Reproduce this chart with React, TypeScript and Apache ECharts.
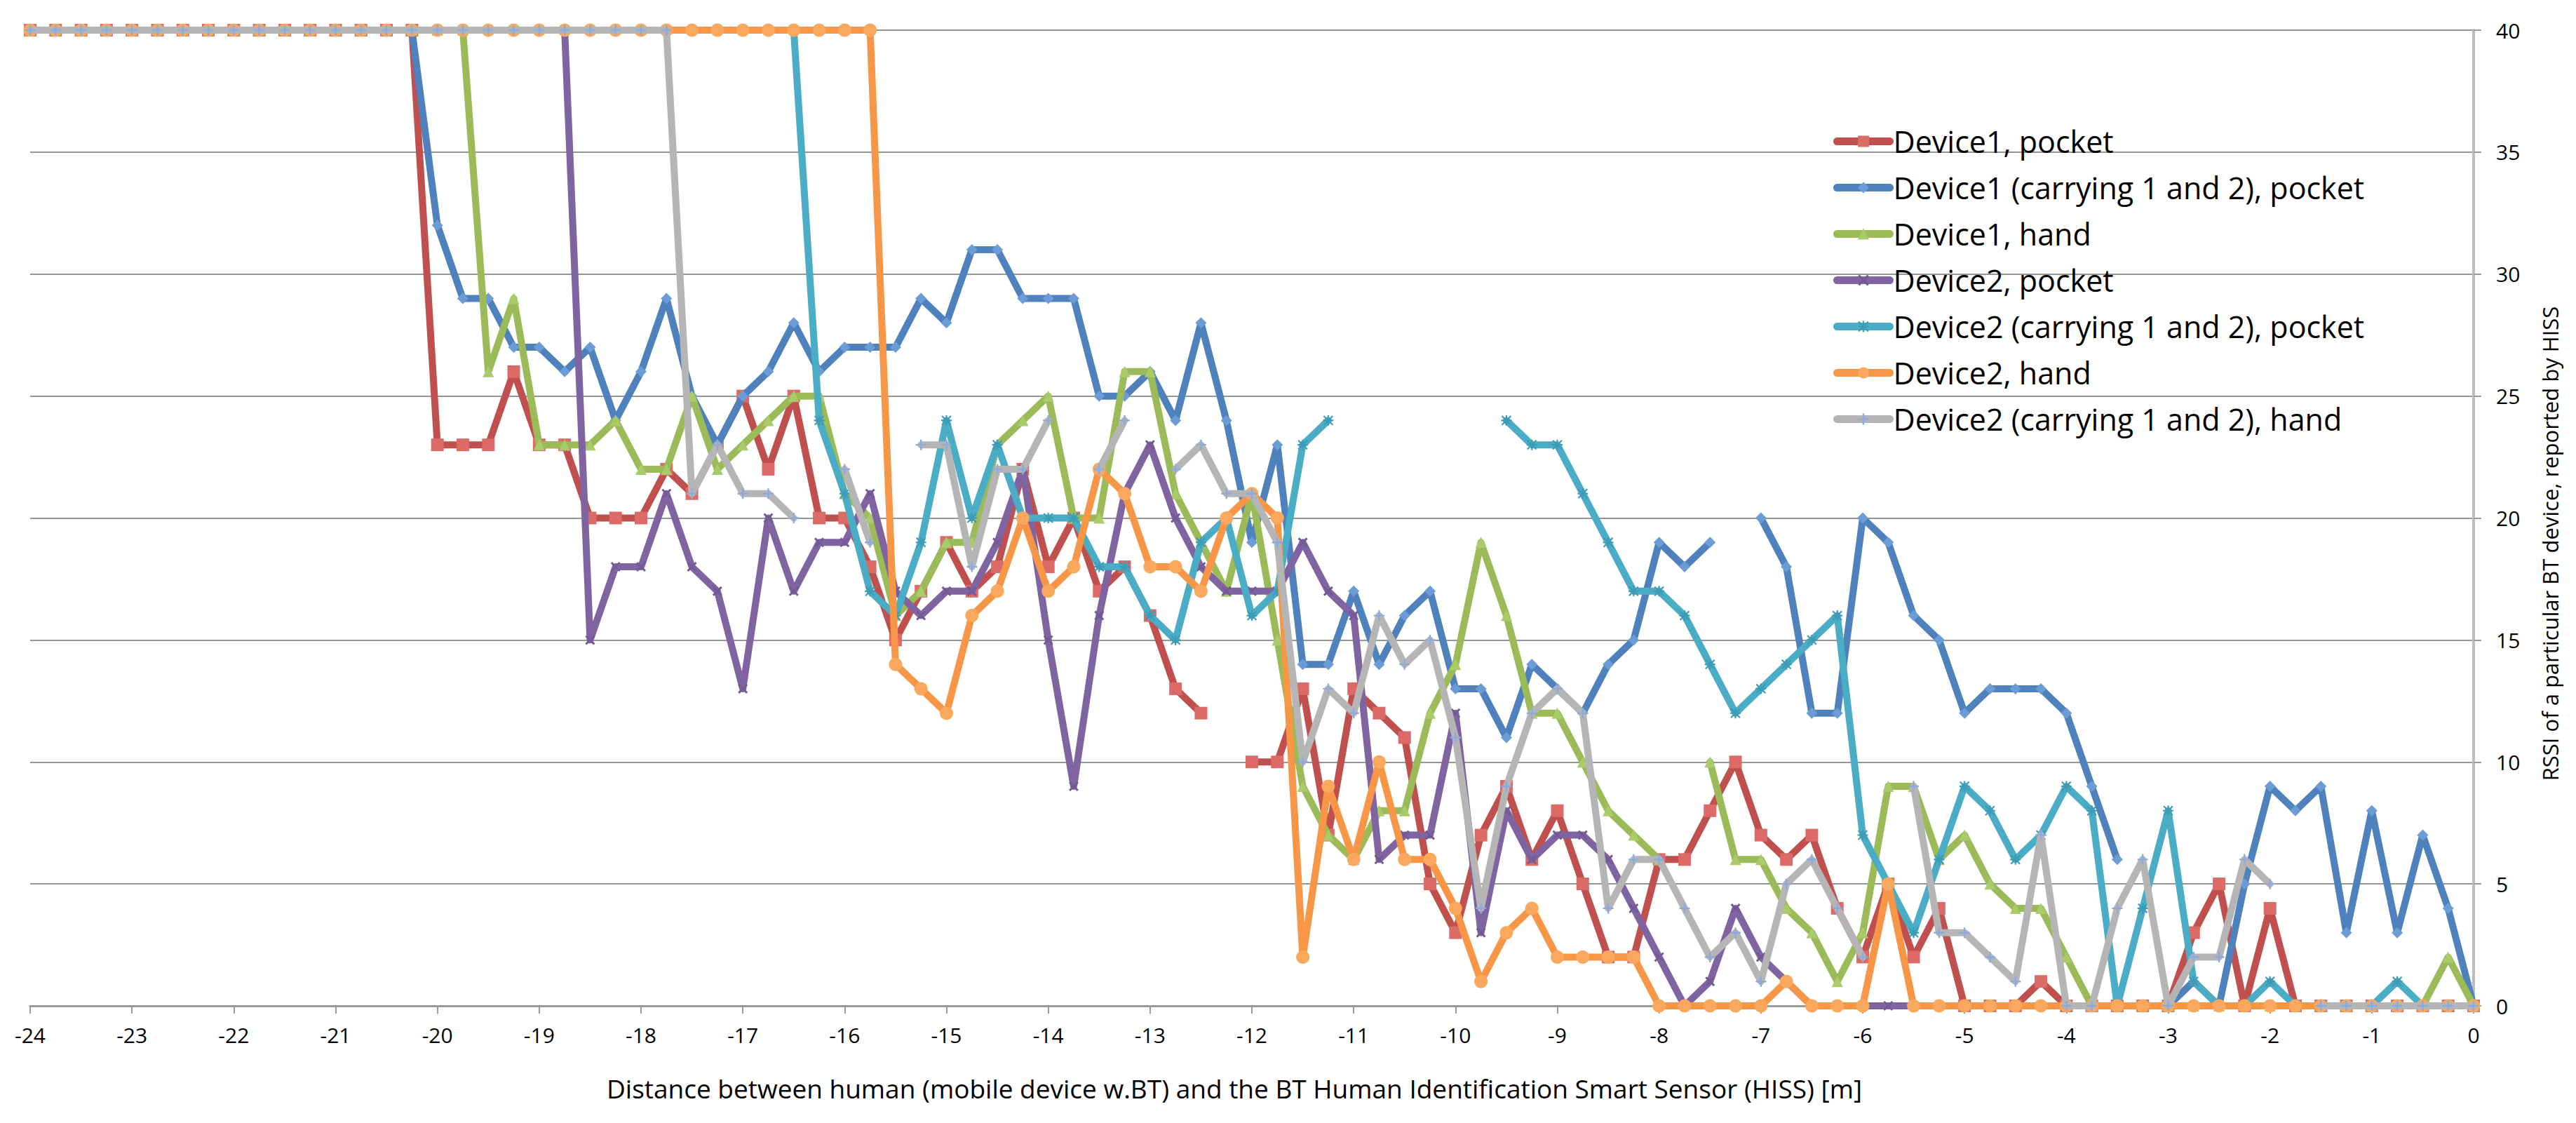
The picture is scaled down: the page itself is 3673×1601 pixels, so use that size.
import React, { useEffect, useRef } from "react";
import * as echarts from "echarts";

// Distance from the sensor [m], one reading every 0.25 m
const DISTANCES = [
  -24, -23.75, -23.5, -23.25, -23, -22.75, -22.5, -22.25, -22, -21.75, -21.5, -21.25,
  -21, -20.75, -20.5, -20.25, -20, -19.75, -19.5, -19.25, -19, -18.75, -18.5, -18.25,
  -18, -17.75, -17.5, -17.25, -17, -16.75, -16.5, -16.25, -16, -15.75, -15.5, -15.25,
  -15, -14.75, -14.5, -14.25, -14, -13.75, -13.5, -13.25, -13, -12.75, -12.5, -12.25,
  -12, -11.75, -11.5, -11.25, -11, -10.75, -10.5, -10.25, -10, -9.75, -9.5, -9.25,
  -9, -8.75, -8.5, -8.25, -8, -7.75, -7.5, -7.25, -7, -6.75, -6.5, -6.25,
  -6, -5.75, -5.5, -5.25, -5, -4.75, -4.5, -4.25, -4, -3.75, -3.5, -3.25,
  -3, -2.75, -2.5, -2.25, -2, -1.75, -1.5, -1.25, -1, -0.75, -0.5, -0.25, 0,
];

const X_TICKS_MIN = -24;
const X_TICKS_MAX = 0;
const Y_MIN = 0;
const Y_MAX = 40;

const SERIES_NAMES = [
  "Device1, pocket",
  "Device1 (carrying 1 and 2), pocket",
  "Device1, hand",
  "Device2, pocket",
  "Device2 (carrying 1 and 2), pocket",
  "Device2, hand",
  "Device2 (carrying 1 and 2), hand",
];

const DEVICE1_POCKET = [
  40, 40, 40, 40, 40, 40, 40, 40, 40, 40, 40, 40, 40, 40, 40, 40,
  23, 23, 23, 26, 23, 23, 20, 20, 20, 22, 21, 23, 25, 22, 25,
  20, 20, 18, 15, 17, 19, 17, 18, 22, 18, 20, 17, 18, 16, 13, 12,
  null,
  10, 10, 13, 7, 13, 12, 11, 5, 3, 7, 9, 6, 8, 5, 2, 2,
  6, 6, 8, 10, 7, 6, 7, 4, 2, 5, 2, 4, 0, 0, 0, 1, 0,
  0, 0, 0, 0, 3, 5, 0, 4, 0, 0, 0, 0, 0, 0, 0, 0,
];

const DEVICE1_CARRY_POCKET = [
  40, 40, 40, 40, 40, 40, 40, 40, 40, 40, 40, 40, 40, 40, 40, 40,
  32, 29, 29, 27, 27, 26, 27, 24, 26, 29, 25, 23, 25, 26, 28,
  26, 27, 27, 27, 29, 28, 31, 31, 29, 29, 29, 25, 25, 26, 24, 28, 24,
  19, 23, 14, 14, 17, 14, 16, 17, 13, 13, 11, 14, 13, 12, 14, 15,
  19, 18, 19, null, 20, 18, 12, 12, 20, 19, 16, 15, 12, 13, 13, 13, 12,
  9, 6, null, 0, 1, 0, 5, 9, 8, 9, 3, 8, 3, 7, 4, 0,
];

const DEVICE1_HAND = [
  40, 40, 40, 40, 40, 40, 40, 40, 40, 40, 40, 40, 40, 40, 40, 40, 40, 40,
  26, 29, 23, 23, 23, 24, 22, 22, 25, 22, 23, 24, 25,
  25, 21, 20, 16, 17, 19, 19, 23, 24, 25, 20, 20, 26, 26, 21, 19, 17,
  21, 15, 9, 7, 6, 8, 8, 12, 14, 19, 16, 12, 12, 10, 8, 7,
  6, null, 10, 6, 6, 4, 3, 1, 3, 9, 9, 6, 7, 5, 4, 4, 2,
  0, 0, 0, 0, 0, 0, 0, 0, 0, 0, 0, 0, 0, 0, 2, 0,
];

const DEVICE2_POCKET = [
  40, 40, 40, 40, 40, 40, 40, 40, 40, 40, 40, 40, 40, 40, 40, 40, 40, 40, 40, 40, 40, 40,
  15, 18, 18, 21, 18, 17, 13, 20, 17,
  19, 19, 21, 17, 16, 17, 17, 19, 22, 15, 9, 16, 21, 23, 20, 18, 17,
  17, 17, 19, 17, 16, 6, 7, 7, 12, 3, 8, 6, 7, 7, 6, 4,
  2, 0, 1, 4, 2, 1,
  0, 0, 0, 0, 0, 0, 0, 0, 0, 0, 0, 0, 0, 0, 0, 0, 0, 0, 0, 0, 0, 0, 0, 0, 0, 0, 0,
];

const DEVICE2_CARRY_POCKET = [
  40, 40, 40, 40, 40, 40, 40, 40, 40, 40, 40, 40, 40, 40, 40, 40,
  40, 40, 40, 40, 40, 40, 40, 40, 40, 40, 40, 40, 40, 40, 40,
  24, 21, 17, 16, 19, 24, 20, 23, 20, 20, 20, 18, 18, 16, 15, 19, 20,
  16, 17, 23, 24,
  null, null, null, null, null, null,
  24, 23, 23, 21, 19, 17,
  17, 16, 14, 12, 13, 14, 15, 16, 7, 5, 3, 6, 9, 8, 6, 7, 9,
  8, 0, 4, 8, 1, 0, 0, 1, 0, 0, 0, 0, 1, 0, 0, 0,
];

const DEVICE2_HAND = [
  40, 40, 40, 40, 40, 40, 40, 40, 40, 40, 40, 40, 40, 40, 40, 40, 40,
  40, 40, 40, 40, 40, 40, 40, 40, 40, 40, 40, 40, 40, 40, 40, 40, 40,
  14, 13, 12, 16, 17, 20, 17, 18, 22, 21, 18, 18, 17, 20,
  21, 20, 2, 9, 6, 10, 6, 6, 4, 1, 3, 4, 2, 2, 2, 2,
  0, 0, 0, 0, 0, 1, 0, 0, 0, 5,
  0, 0, 0, 0, 0, 0, 0, 0, 0, 0, 0, 0, 0, 0, 0, 0, 0, 0, 0, 0, 0, 0, 0,
];

const DEVICE2_CARRY_HAND = [
  40, 40, 40, 40, 40, 40, 40, 40, 40, 40, 40, 40, 40,
  40, 40, 40, 40, 40, 40, 40, 40, 40, 40, 40, 40, 40,
  21, 23, 21, 21, 20, null, 22, 19, null, 23, 23, 18, 22, 22, 24, null, 22, 24, null, 22, 23, 21,
  21, 19, 10, 13, 12, 16, 14, 15, 11, 4, 9, 12, 13, 12, 4, 6,
  6, 4, 2, 3, 1, 5, 6, 4, 2, null, 9, 3, 3, 2, 1, 7, 0,
  0, 4, 6, 0, 2, 2, 6, 5, null, 0, 0, 0, 0, 0, 0, 0,
];

const X_TITLE =
  "Distance between human (mobile device w.BT) and the BT Human Identification Smart Sensor (HISS) [m]";
const Y_TITLE = "RSSI of a particular BT device, reported by HISS";

const SYMBOL_X =
  "path://M1.5,0 L5,3.5 L8.5,0 L10,1.5 L6.5,5 L10,8.5 L8.5,10 L5,6.5 L1.5,10 L0,8.5 L3.5,5 L0,1.5 Z";
const SYMBOL_PLUS = "path://M4.2,0 H5.8 V4.2 H10 V5.8 H5.8 V10 H4.2 V5.8 H0 V4.2 H4.2 Z";
const SYMBOL_STAR =
  "path://M4.3,0 H5.7 V4.3 H10 V5.7 H5.7 V10 H4.3 V5.7 H0 V4.3 H4.3 Z M1.2,0.2 L5,4 L8.8,0.2 L9.8,1.2 L6,5 L9.8,8.8 L8.8,9.8 L5,6 L1.2,9.8 L0.2,8.8 L4,5 L0.2,1.2 Z";

const FONT = "'Open Sans', 'Noto Sans', sans-serif";

export default function App() {
  const ref = useRef<HTMLDivElement>(null);

  useEffect(() => {
    if (!ref.current) return;
    const chart = echarts.init(ref.current, null, { renderer: "svg" });

    const values = [
      DEVICE1_POCKET,
      DEVICE1_CARRY_POCKET,
      DEVICE1_HAND,
      DEVICE2_POCKET,
      DEVICE2_CARRY_POCKET,
      DEVICE2_HAND,
      DEVICE2_CARRY_HAND,
    ];
    const styles = [
      { line: "#C0504D", marker: "#DC6A66", symbol: "rect", size: 18 },
      { line: "#4F81BD", marker: "#6C9CD6", symbol: "diamond", size: 16 },
      { line: "#9BBB59", marker: "#AACB6A", symbol: "triangle", size: 16 },
      { line: "#8064A2", marker: "#735996", symbol: SYMBOL_X, size: 14 },
      { line: "#4BACC6", marker: "#3C9BB5", symbol: SYMBOL_STAR, size: 15 },
      { line: "#F79646", marker: "#FAA85E", symbol: "circle", size: 19 },
      { line: "#B5B5B5", marker: "#8EAADB", symbol: SYMBOL_PLUS, size: 15 },
    ];

    const series = SERIES_NAMES.map((name, k) => ({
      name,
      type: "line",
      data: DISTANCES.map((d, i) => [d, values[k][i]]),
      symbol: styles[k].symbol,
      symbolSize: styles[k].size,
      showSymbol: true,
      showAllSymbol: true,
      connectNulls: false,
      lineStyle: { color: styles[k].line, width: 10, cap: "round", join: "round" },
      itemStyle: { color: styles[k].marker },
      emphasis: { disabled: true },
      z: 2 + k,
    }));

    chart.setOption({
      animation: false,
      backgroundColor: "#ffffff",
      grid: { left: 43, right: 146, top: 43, bottom: 167, containLabel: false },
      legend: {
        data: SERIES_NAMES,
        orient: "vertical",
        left: 2609,
        top: 175,
        itemWidth: 75,
        itemHeight: 20,
        itemGap: 23,
        lineStyle: { width: 11, cap: "round" },
        textStyle: { fontFamily: FONT, fontSize: 43, lineHeight: 43, color: "#000000" },
        selectedMode: false,
      },
      xAxis: {
        type: "value",
        min: X_TICKS_MIN,
        max: X_TICKS_MAX,
        interval: 1,
        axisLine: { show: true, onZero: false, lineStyle: { color: "#9a9a9a", width: 3 } },
        axisTick: { show: true, length: 11, lineStyle: { color: "#9a9a9a", width: 2 } },
        axisLabel: { fontFamily: FONT, fontSize: 30, color: "#000000", margin: 26 },
        splitLine: { show: false },
      },
      yAxis: {
        type: "value",
        position: "right",
        min: Y_MIN,
        max: Y_MAX,
        interval: 5,
        axisLine: { show: true, lineStyle: { color: "#bcbcbc", width: 4 } },
        axisTick: { show: true, length: 11, lineStyle: { color: "#9a9a9a", width: 2 } },
        axisLabel: { fontFamily: FONT, fontSize: 30, color: "#000000", margin: 32 },
        splitLine: { show: true, lineStyle: { color: "#959595", width: 2 } },
      },
      graphic: [
        {
          type: "text",
          x: 1760,
          y: 1551,
          style: {
            text: X_TITLE,
            fontFamily: FONT,
            fontSize: 37,
            fill: "#000000",
            align: "center",
            verticalAlign: "middle",
          },
        },
        {
          type: "text",
          x: 3636,
          y: 775,
          rotation: Math.PI / 2,
          style: {
            text: Y_TITLE,
            fontFamily: FONT,
            fontSize: 31,
            fill: "#000000",
            align: "center",
            verticalAlign: "middle",
          },
        },
      ],
      series,
    });

    return () => chart.dispose();
  }, []);

  return (
    <div
      ref={ref}
      style={{ position: "fixed", left: 0, top: 0, width: 3673, height: 1601, background: "#ffffff" }}
    />
  );
}
